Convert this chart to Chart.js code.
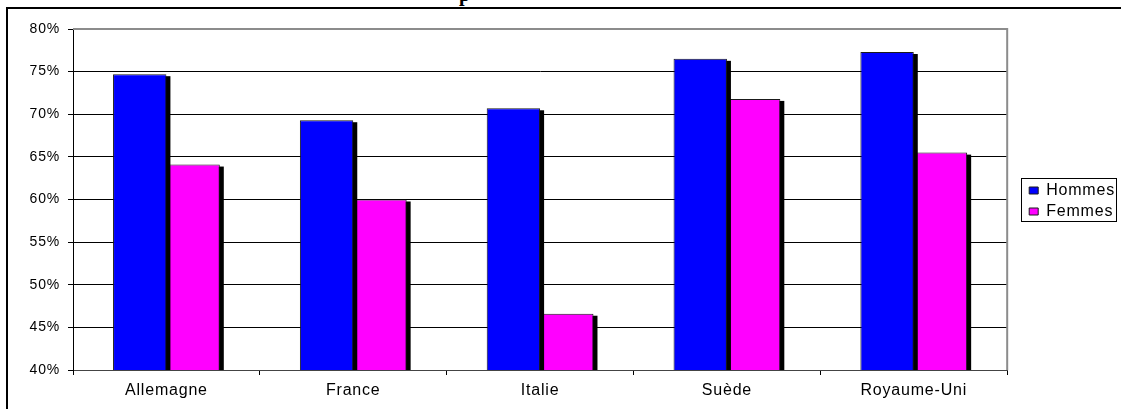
<!DOCTYPE html>
<html>
<head>
<meta charset="utf-8">
<script src="https://cdn.jsdelivr.net/npm/chart.js@4/dist/chart.umd.min.js"></script>
<style>
  html, body { margin: 0; padding: 0; background: #fff; overflow: hidden; }
  #frame { position: absolute; left: 6px; top: 7px; width: 1300px; height: 600px; border: 2px solid #000; box-sizing: border-box; }
  #title { position: absolute; left: 459px; top: -16px; font: bold 20px 'Liberation Serif', 'Times New Roman', serif; line-height: 20px; color: #000; }
  #wrap { position: absolute; left: 0; top: 0; width: 1121px; height: 409px; }
</style>
</head>
<body>
<div id="frame"></div>
<div id="title">p</div>
<div id="wrap"><canvas id="chart" width="1121" height="409"></canvas></div>
<script>
// --- DATA ---
const countries = ['Allemagne', 'France', 'Italie', 'Suède', 'Royaume-Uni'];
const hommes = [74.7, 69.3, 70.7, 76.5, 77.3];
const femmes = [64.1, 60.0, 46.6, 71.8, 65.5];
const seriesNames = ['Hommes', 'Femmes'];
const yMin = 40, yMax = 80, yStep = 5;

const FONT = "'Liberation Sans', Arial, sans-serif";

// Excel-like black drop shadow, drawn from each bar's own geometry
const barShadow = {
    id: 'barShadow',
    beforeDatasetDraw(chart, args) {
        const { ctx, chartArea: a } = chart;
        ctx.save();
        ctx.beginPath();
        ctx.rect(a.left, a.top, a.right - a.left + 10, a.bottom - a.top);
        ctx.clip();
        ctx.fillStyle = '#000';
        args.meta.data.forEach(bar => {
            const { x, y, base, width } = bar.getProps(['x', 'y', 'base', 'width'], true);
            ctx.fillRect(x - width / 2 + 4, y + 2, width, base - y);
        });
        ctx.restore();
    }
};

// gray plot-area frame on top and right
const plotFrame = {
    id: 'plotFrame',
    beforeDatasetsDraw(chart) {
        const { ctx, chartArea: a } = chart;
        ctx.save();
        ctx.strokeStyle = '#8c8c8c';
        ctx.lineWidth = 2;
        ctx.beginPath();
        ctx.moveTo(a.left, a.top);
        ctx.lineTo(a.right, a.top);
        ctx.lineTo(a.right, a.bottom);
        ctx.stroke();
        ctx.restore();
    }
};

// slightly wider text spacing, like the original
const spacing = {
    id: 'spacing',
    beforeUpdate(chart) { chart.ctx.letterSpacing = '0.8px'; },
    beforeDraw(chart) { chart.ctx.letterSpacing = '0.8px'; }
};

// move legend into place and draw the box round it
const legendBox = {
    id: 'legendBox',
    afterLayout(chart) {
        chart.legend.left += 17;
        chart.legend.right += 17;
        chart.legend.top -= 18;
        chart.legend.bottom -= 18;
    },
    afterDraw(chart) {
        const hb = chart.legend.legendHitBoxes;
        if (!hb || !hb.length) return;
        const ctx = chart.ctx;
        const x0 = chart.legend.left + 5 - 8;
        const y0 = hb[0].top - 5;
        const x1 = x0 + 95;
        const y1 = hb[hb.length - 1].top + hb[hb.length - 1].height + 1;
        ctx.save();
        ctx.strokeStyle = '#000';
        ctx.lineWidth = 1;
        ctx.strokeRect(Math.round(x0) + 0.5, Math.round(y0) + 0.5, Math.round(x1 - x0), Math.round(y1 - y0));
        ctx.restore();
    }
};

new Chart(document.getElementById('chart'), {
    type: 'bar',
    data: {
        labels: countries,
        datasets: [
            { label: seriesNames[0], data: hommes, backgroundColor: '#0000ff', borderColor: '#1a1a1a', borderWidth: 1 },
            { label: seriesNames[1], data: femmes, backgroundColor: '#ff00ff', borderColor: '#1a1a1a', borderWidth: 1 }
        ]
    },
    options: {
        responsive: false,
        animation: false,
        devicePixelRatio: 1,
        layout: { padding: { left: 0, top: 29, right: 13, bottom: 0 } },
        datasets: { bar: { categoryPercentage: 0.5714, barPercentage: 1.0 } },
        scales: {
            x: {
                offset: true,
                grid: { display: true, drawOnChartArea: false, color: '#000', tickLength: 5, offset: true },
                border: { color: '#444', width: 1 },
                ticks: { color: '#000', font: { family: FONT, size: 16 }, padding: 6, maxRotation: 0 },
                afterFit(scale) { scale.height = 39; }
            },
            y: {
                min: yMin,
                max: yMax,
                grid: { color: '#000', lineWidth: 1, tickLength: 5 },
                border: { color: '#000', width: 1 },
                ticks: {
                    stepSize: yStep,
                    color: '#000',
                    font: { family: FONT, size: 14 },
                    padding: 8,
                    callback: v => v + '%'
                },
                afterFit(scale) { scale.width = 73; }
            }
        },
        plugins: {
            legend: {
                position: 'right',
                labels: {
                    color: '#000',
                    font: { family: FONT, size: 16 },
                    boxWidth: 9,
                    boxHeight: 7,
                    padding: 5
                }
            },
            tooltip: { enabled: false }
        }
    },
    plugins: [spacing, plotFrame, barShadow, legendBox]
});
</script>
</body>
</html>
